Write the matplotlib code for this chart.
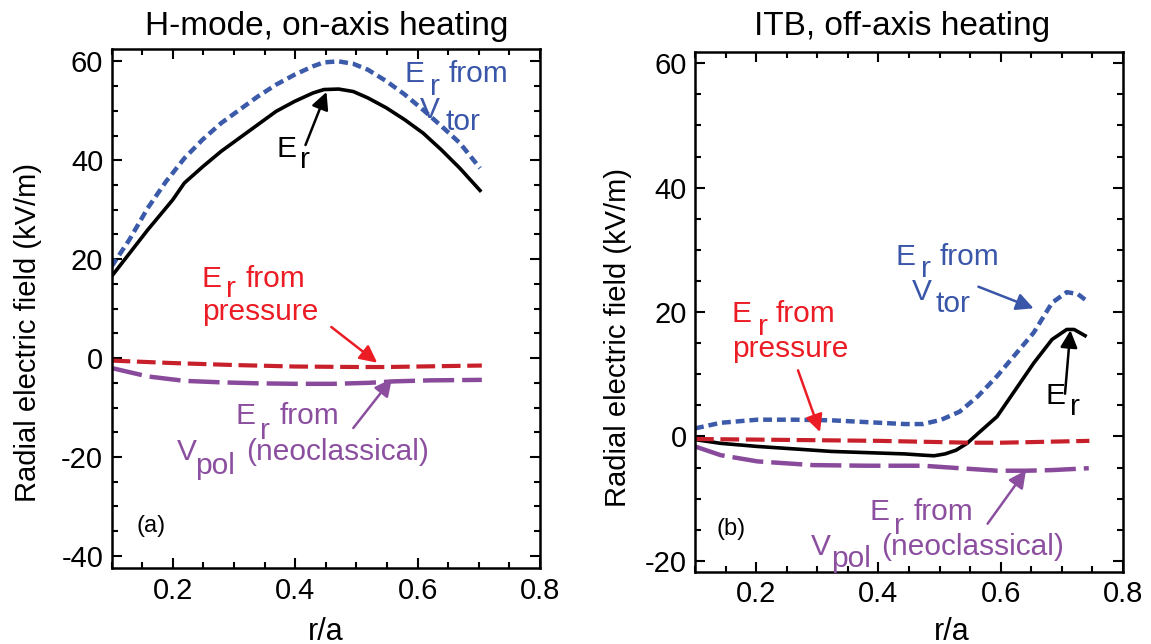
import matplotlib
matplotlib.use("Agg")
import matplotlib.pyplot as plt
from matplotlib.ticker import MultipleLocator

plt.rcParams['font.family'] = ['Liberation Sans', 'DejaVu Sans']

# ---------------- data ----------------
# Panel (a): H-mode, on-axis heating
xa_er = [0.100, 0.159, 0.200, 0.219, 0.249, 0.279, 0.309, 0.339, 0.369, 0.399, 0.429, 0.447,
         0.471, 0.495, 0.519, 0.549, 0.579, 0.609, 0.639, 0.669, 0.702]
er_a = [16.5, 25.9, 32.0, 35.4, 38.7, 41.8, 44.5, 47.2, 49.9, 51.9, 53.6, 54.3,
        54.4, 53.9, 52.6, 50.6, 48.2, 45.5, 42.1, 38.4, 33.9]
xa_tor = [0.100, 0.129, 0.159, 0.189, 0.219, 0.249, 0.279, 0.309, 0.339, 0.369, 0.399, 0.429,
          0.447, 0.471, 0.495, 0.519, 0.549, 0.579, 0.609, 0.639, 0.669, 0.702]
vtor_a = [18.5, 23.9, 30.3, 35.7, 40.4, 44.2, 47.5, 50.2, 52.9, 55.3, 57.3, 59.0,
          59.8, 60.0, 59.5, 58.3, 56.0, 53.3, 50.2, 46.9, 43.5, 38.4]
xa_p = [0.10, 0.20, 0.30, 0.40, 0.50, 0.55, 0.60, 0.705]
pres_a = [-0.5, -1.0, -1.4, -1.7, -1.8, -1.8, -1.7, -1.5]
xa_pol = [0.100, 0.159, 0.219, 0.279, 0.339, 0.400, 0.462, 0.520, 0.562, 0.620, 0.705]
pol_a = [-2.0, -3.7, -4.6, -4.9, -5.1, -5.2, -5.2, -5.0, -4.7, -4.5, -4.4]

# Panel (b): ITB, off-axis heating
xb_er = [0.100, 0.142, 0.202, 0.263, 0.323, 0.383, 0.443, 0.473, 0.491, 0.509, 0.527, 0.545,
         0.563, 0.594, 0.624, 0.654, 0.684, 0.708, 0.720, 0.738]
er_b = [-0.5, -1.1, -1.6, -2.0, -2.4, -2.6, -2.8, -3.0, -3.1, -2.8, -2.2, -1.1,
        0.5, 3.2, 7.5, 11.8, 15.6, 17.2, 17.2, 16.2]
xb_tor = [0.100, 0.142, 0.202, 0.263, 0.323, 0.383, 0.443, 0.473, 0.503, 0.533, 0.563, 0.594,
          0.624, 0.654, 0.684, 0.708, 0.726, 0.738]
vtor_b = [1.3, 2.2, 2.7, 2.7, 2.6, 2.3, 2.0, 2.0, 2.7, 4.0, 6.5, 9.7, 13.2, 16.7, 21.5, 23.2, 22.9, 22.0]
xb_p = [0.10, 0.20, 0.30, 0.40, 0.50, 0.55, 0.60, 0.65, 0.745]
pres_b = [-0.4, -0.5, -0.6, -0.7, -0.9, -1.0, -1.0, -0.9, -0.7]
xb_pol = [0.100, 0.142, 0.202, 0.293, 0.383, 0.473, 0.533, 0.594, 0.642, 0.684, 0.744]
pol_b = [-1.6, -3.0, -4.0, -4.6, -4.7, -4.7, -5.1, -5.5, -5.5, -5.4, -5.1]

xticks = [0.2, 0.4, 0.6, 0.8]
yticks_a = [-40, -20, 0, 20, 40, 60]
yticks_b = [-20, 0, 20, 40, 60]
titles = ["H-mode, on-axis heating", "ITB, off-axis heating"]
ylabel = "Radial electric field (kV/m)"
xlabel = "r/a"

# ---------------- styling ----------------
BLACK = "black"
BLUE = "#3b5aa9"
RED_L = "#c8202b"
PURP_L = "#8a4a9c"
RED_T = "#ec1c24"
BLUE_T = "#3a56a8"
PURP_T = "#8c4fa0"

W, H = 1151, 644
fig = plt.figure(figsize=(W / 100, H / 100), dpi=100)

def frac(x, y):
    return (x / W, 1 - y / H)

axA = fig.add_axes([111.5 / W, 1 - 568.3 / H, (540 - 111.5) / W, (568.3 - 49) / H])
axB = fig.add_axes([695 / W, 1 - 571.5 / H, (1123 - 695) / W, (571.5 - 52) / H])

def style(ax, yt, ylim):
    ax.set_xlim(0.1, 0.8)
    ax.set_ylim(*ylim)
    ax.set_xticks(xticks)
    ax.set_xticklabels([f"{t:.1f}" for t in xticks])
    ax.set_yticks(yt)
    ax.set_yticklabels([str(t) for t in yt])
    ax.xaxis.set_minor_locator(MultipleLocator(0.05))
    ax.yaxis.set_minor_locator(MultipleLocator(5))
    ax.tick_params(which='both', direction='in', top=True, right=True, width=1.5,
                   labelsize=21, pad=6)
    ax.tick_params(which='major', length=7.5)
    ax.tick_params(which='minor', length=4)
    for s in ax.spines.values():
        s.set_linewidth(1.8)
    ax.set_ylabel(ylabel, fontsize=21)
    ax.set_xlabel(xlabel, fontsize=22)

style(axA, yticks_a, (-42.5, 62.5))
style(axB, yticks_b, (-21.7, 61.8))
axA.yaxis.set_label_coords(-0.163, 0.455)
axB.yaxis.set_label_coords(-0.148, 0.45)
axA.xaxis.set_label_coords(0.50, -0.093)
axB.xaxis.set_label_coords(0.60, -0.088)

# curves
axA.plot(xa_er, er_a, color=BLACK, lw=2.6)
axA.plot(xa_tor, vtor_a, color=BLUE, lw=3.2, dashes=(2.0, 1.1))
axA.plot(xa_p, pres_a, color=RED_L, lw=3.0, dashes=(4.5, 1.6))
axA.plot(xa_pol, pol_a, color=PURP_L, lw=3.2, dashes=(7.0, 1.8))

axB.plot(xb_er, er_b, color=BLACK, lw=2.6)
axB.plot(xb_tor, vtor_b, color=BLUE, lw=3.2, dashes=(2.0, 1.1))
axB.plot(xb_p, pres_b, color=RED_L, lw=3.0, dashes=(4.5, 1.6))
axB.plot(xb_pol, pol_b, color=PURP_L, lw=3.2, dashes=(7.0, 1.8))

# titles
fig.text(*frac(327, 35), titles[0], ha='center', va='baseline', fontsize=24)
fig.text(*frac(902, 35), titles[1], ha='center', va='baseline', fontsize=24)

FS = 21.5

def t(x, y, s, c, fs=FS):
    fig.text(*frac(x, y), s, ha='left', va='baseline', fontsize=fs, color=c)

def arrow(x0, y0, x1, y1, c):
    fig.add_artist(matplotlib.patches.FancyArrowPatch(
        frac(x0, y0), frac(x1, y1), transform=fig.transFigure,
        arrowstyle='-|>', mutation_scale=26, lw=1.8, color=c,
        shrinkA=0, shrinkB=0))

# ----- panel (a) labels -----
t(404.8, 81.7, "E", BLUE_T); t(430.5, 95, "r", BLUE_T); t(448.9, 81.7, "from", BLUE_T)
t(419.5, 118.3, "V", BLUE_T); t(445.2, 130, "tor", BLUE_T)
t(276.1, 156.7, "E", BLACK); t(300, 168.3, "r", BLACK)
arrow(305.5, 145, 326.5, 92, BLACK)
t(201.9, 286.7, "E", RED_T); t(226.5, 296.7, "r", RED_T); t(246, 286.7, "from", RED_T)
t(201.9, 320, "pressure", RED_T)
arrow(331.3, 327, 377.2, 362.7, RED_T)
t(235.7, 423.7, "E", PURP_T); t(259.6, 438.7, "r", PURP_T); t(279.8, 423.7, "from", PURP_T)
t(176.9, 460.3, "V", PURP_T); t(195.3, 473.7, "pol", PURP_T); t(246, 460.3, "(neoclassical)", PURP_T)
arrow(353.3, 428, 391.9, 378.7, PURP_T)
t(136.5, 532, "(a)", BLACK, fs=17)

# ----- panel (b) labels -----
t(895.6, 265, "E", BLUE_T); t(921, 276.7, "r", BLUE_T); t(939.7, 265, "from", BLUE_T)
t(911.4, 300, "V", BLUE_T); t(936, 311.7, "tor", BLUE_T)
arrow(978.4, 286.7, 1033.6, 308.3, BLUE_T)
t(731.8, 322, "E", RED_T); t(757.6, 335, "r", RED_T); t(776, 322, "from", RED_T)
t(731.8, 357, "pressure", RED_T)
arrow(798, 370.3, 820, 432, RED_T)
t(1045.7, 403.7, "E", BLACK); t(1070.4, 415.3, "r", BLACK)
arrow(1065, 393.7, 1070.4, 330.3, BLACK)
t(869.8, 520.3, "E", PURP_T); t(893.7, 533.7, "r", PURP_T); t(914, 520.3, "from", PURP_T)
t(811, 555.3, "V", PURP_T); t(831, 567, "pol", PURP_T); t(880.8, 555.3, "(neoclassical)", PURP_T)
arrow(987.6, 523.7, 1026, 470.3, PURP_T)
t(717, 535.3, "(b)", BLACK, fs=17)

fig.savefig("out.png", dpi=100)
